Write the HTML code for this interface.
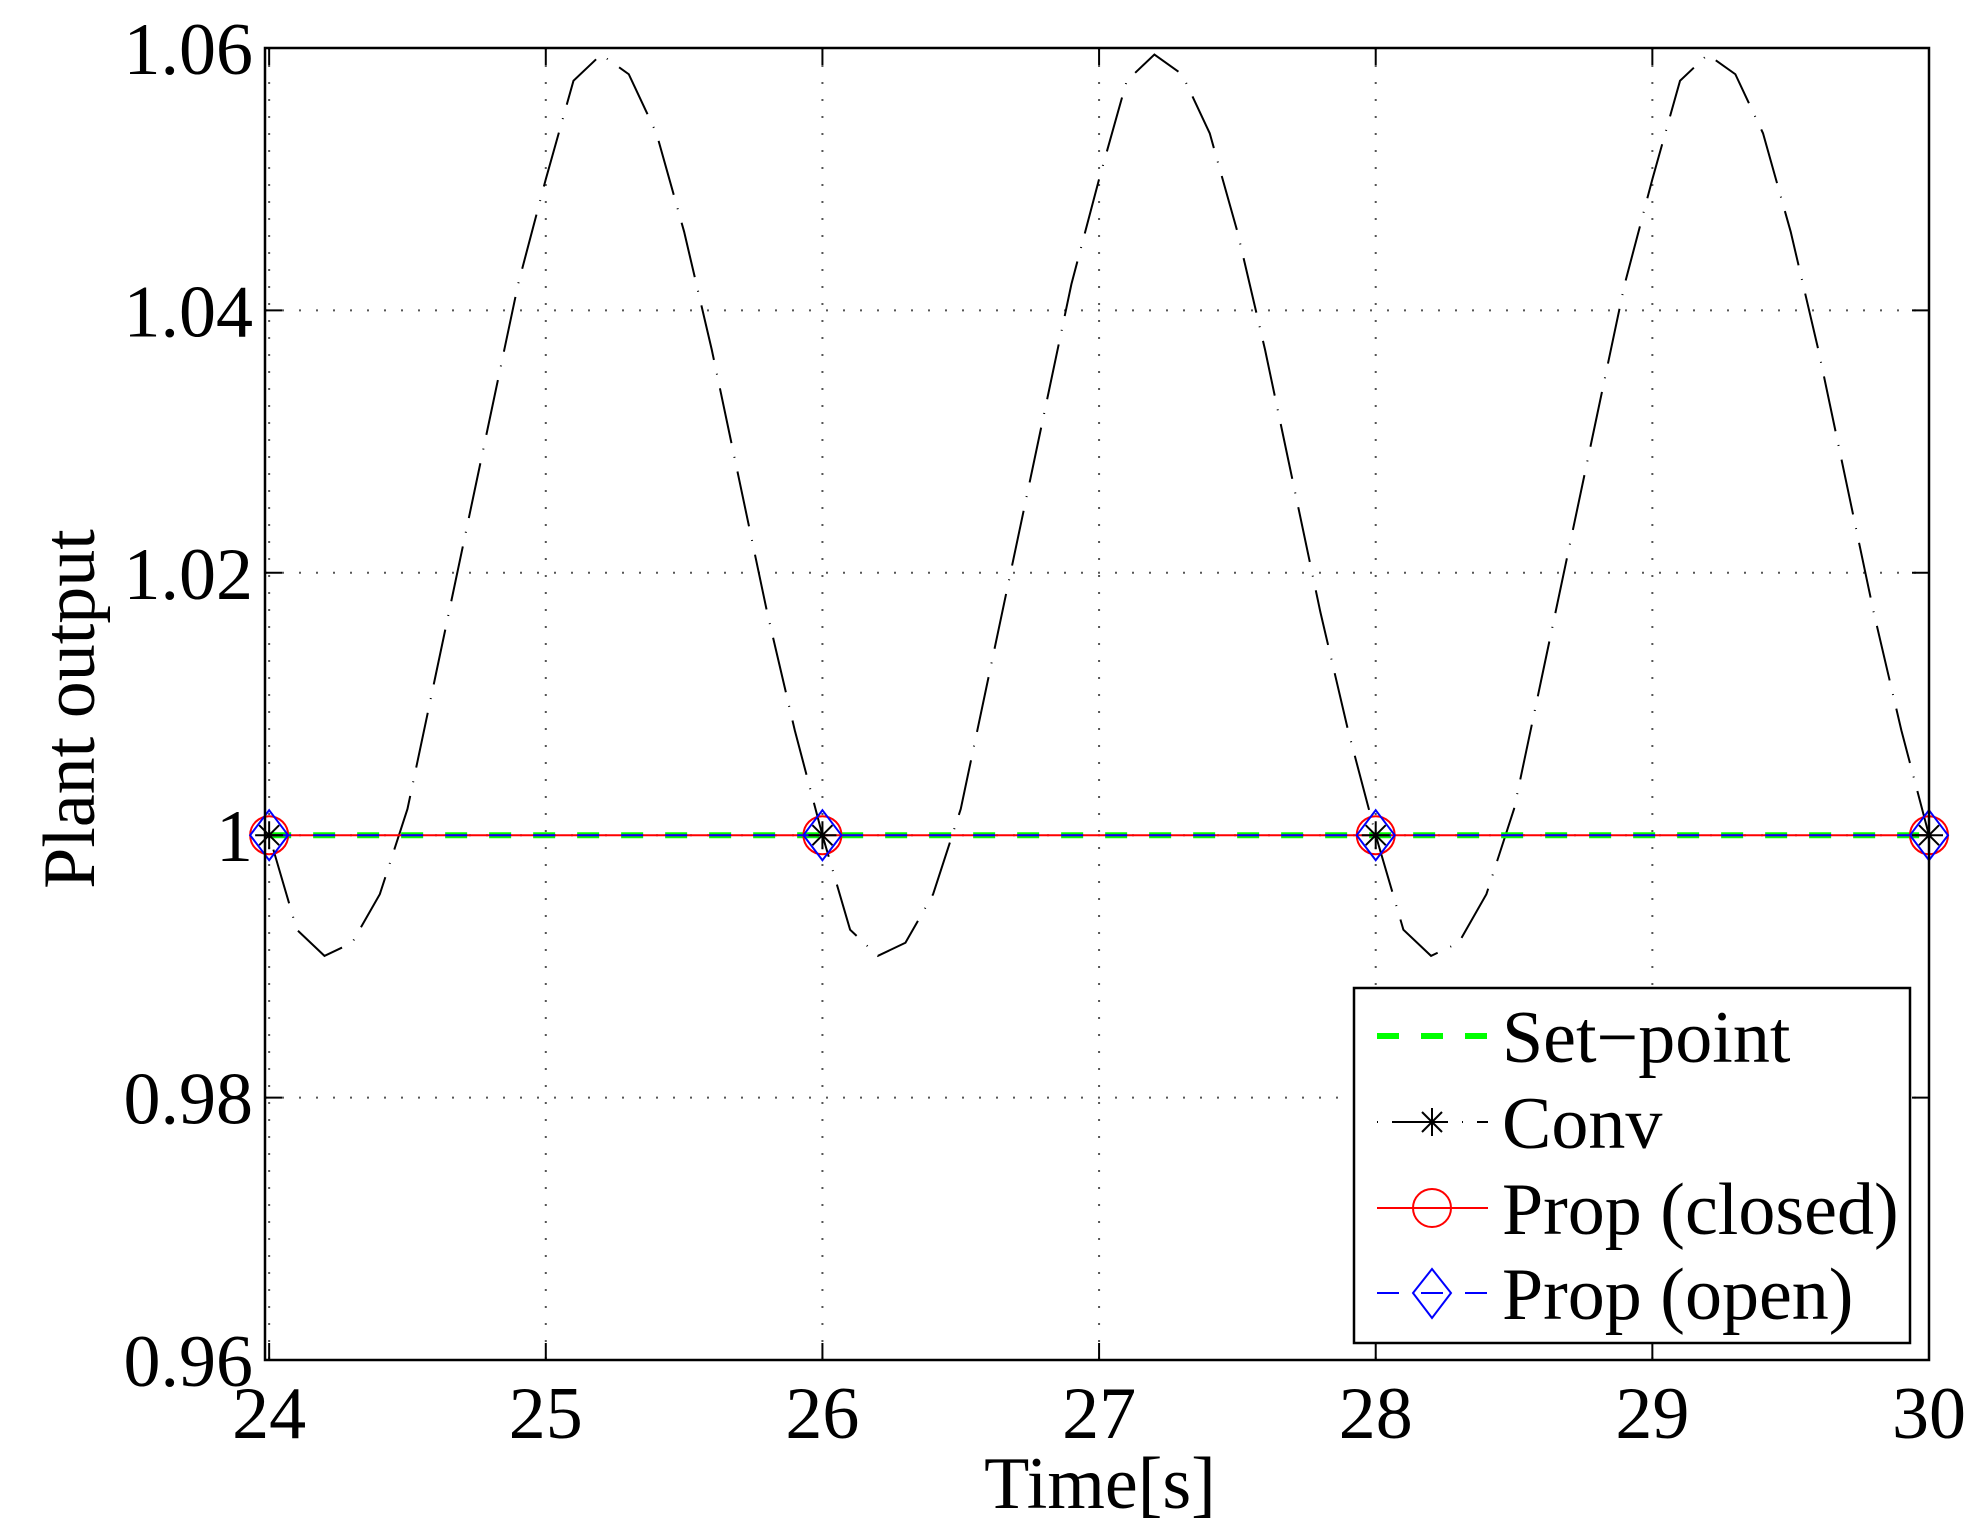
<!DOCTYPE html>
<html><head><meta charset="utf-8"><style>
html,body{margin:0;padding:0;background:#fff}
svg{display:block}
text{font-family:"Liberation Serif",serif;fill:#000}
</style></head><body>
<svg id="chart" width="1988" height="1538" viewBox="0 0 1988 1538" xmlns="http://www.w3.org/2000/svg">
<g id="grid"></g>
<g id="series"></g>
<g id="axes"></g>
<g id="legend">
  <rect x="1354" y="988" width="556" height="355" fill="#fff" stroke="#000" stroke-width="2.5"/>
  <g>
    <line x1="1377" y1="1036" x2="1488" y2="1036" stroke="#00ff00" stroke-width="6" stroke-dasharray="22,22"/>
    <text x="1502" y="1062" font-size="74">Set−point</text>
  </g>
  <g>
    <line x1="1377" y1="1122" x2="1488" y2="1122" stroke="#000" stroke-width="2" stroke-dasharray="1,14,56,14"/>
    <g stroke="#000" stroke-width="2"><line x1="1432" y1="1108" x2="1432" y2="1136"/><line x1="1418" y1="1122" x2="1446" y2="1122"/><line x1="1422" y1="1112" x2="1442" y2="1132"/><line x1="1422" y1="1132" x2="1442" y2="1112"/></g>
    <text x="1502" y="1148" font-size="74">Conv</text>
  </g>
  <g>
    <line x1="1377" y1="1208" x2="1488" y2="1208" stroke="#ff0000" stroke-width="2"/>
    <ellipse cx="1432" cy="1208" rx="19" ry="19" fill="none" stroke="#ff0000" stroke-width="2"/>
    <text x="1502" y="1234" font-size="74">Prop (closed)</text>
  </g>
  <g>
    <line x1="1377" y1="1293" x2="1488" y2="1293" stroke="#0000ff" stroke-width="2" stroke-dasharray="22,22"/>
    <polygon points="1432,1269 1451,1293 1432,1318 1413,1293" fill="none" stroke="#0000ff" stroke-width="2"/>
    <text x="1502" y="1319" font-size="74">Prop (open)</text>
  </g>
</g>
</svg>
<script>
const xTicks = [24,25,26,27,28,29,30];
const yTicks = [0.96,0.98,1.00,1.02,1.04,1.06];
const yTickLabels = ["0.96","0.98","1","1.02","1.04","1.06"];
const convTime = [24,24.1,24.2,24.3,24.4,24.5,24.6,24.7,24.8,24.9,25,25.1,25.2,25.3,25.4,25.5,25.6,25.7,25.8,25.9,26,
26.1,26.2,26.3,26.4,26.5,26.6,26.7,26.8,26.9,27,27.1,27.2,27.3,27.4,27.5,27.6,27.7,27.8,27.9,28,
28.1,28.2,28.3,28.4,28.5,28.6,28.7,28.8,28.9,29,29.1,29.2,29.3,29.4,29.5,29.6,29.7,29.8,29.9,30];
const convValues = [1.000,0.9928,0.9908,0.9918,0.9955,1.002,1.012,1.022,1.032,1.042,1.050,1.0575,1.0595,1.058,1.0535,1.046,1.037,1.027,1.017,1.008,1.000,
0.9928,0.9908,0.9918,0.9955,1.002,1.012,1.022,1.032,1.042,1.050,1.0575,1.0595,1.058,1.0535,1.046,1.037,1.027,1.017,1.008,1.000,
0.9928,0.9908,0.9918,0.9955,1.002,1.012,1.022,1.032,1.042,1.050,1.0575,1.0595,1.058,1.0535,1.046,1.037,1.027,1.017,1.008,1.000];
const setpointValue = [1.0];
const markerTimes = [24,26,28,30];
const propClosedValues = [1.0,1.0,1.0,1.0];
const propOpenValues = [1.0,1.0,1.0,1.0];

const L=265,R=1929,T=48,B=1360,X0=23.985,X1=30,Y0=0.96,Y1=1.06;
const sx=t=>L+(t-X0)/(X1-X0)*(R-L);
const sy=v=>B-(v-Y0)/(Y1-Y0)*(B-T);
const NS="http://www.w3.org/2000/svg";
function mk(tag,attrs,parent){const e=document.createElementNS(NS,tag);for(const k in attrs)e.setAttribute(k,attrs[k]);parent.appendChild(e);return e;}
const grid=document.getElementById('grid'),axes=document.getElementById('axes'),ser=document.getElementById('series');

xTicks.forEach(t=>{
  const g=mk('line',{x1:sx(t),x2:sx(t),y1:T,y2:B,stroke:'#555','stroke-width':2,'stroke-dasharray':'2,15'},grid);
  
  
  const tk=mk('line',{x1:sx(t),x2:sx(t),y1:B,y2:B-17,stroke:'#000','stroke-width':2},axes);
  
  
  const tk2=mk('line',{x1:sx(t),x2:sx(t),y1:T,y2:T+17,stroke:'#000','stroke-width':2},axes);
  
  
  const lb=mk('text',{x:sx(t),y:1438,'font-size':74,'text-anchor':'middle'},axes);
  lb.textContent=String(t);
  
  
});
yTicks.forEach((v,i)=>{
  const g=mk('line',{x1:L,x2:R,y1:sy(v),y2:sy(v),stroke:'#555','stroke-width':2,'stroke-dasharray':'2,15'},grid);
  
  
  const tk=mk('line',{x1:L,x2:L+17,y1:sy(v),y2:sy(v),stroke:'#000','stroke-width':2},axes);
  
  
  const tk2=mk('line',{x1:R,x2:R-17,y1:sy(v),y2:sy(v),stroke:'#000','stroke-width':2},axes);
  
  
  const lb=mk('text',{x:253,y:sy(v)+26,'font-size':74,'text-anchor':'end'},axes);
  lb.textContent=yTickLabels[i];
  
  
});
const box=mk('rect',{x:L,y:T,width:R-L,height:B-T,fill:'none',stroke:'#000','stroke-width':2.5},axes);


const xt=mk('text',{x:1100,y:1508,'font-size':74,'text-anchor':'middle'},axes);
xt.textContent='Time[s]';


const yt=mk('text',{x:0,y:0,'font-size':74,'text-anchor':'middle',transform:'translate(94,709) rotate(-90)'},axes);
yt.textContent='Plant output';



// conv line
const cp=mk('polyline',{points:convTime.map((t,i)=>sx(t)+','+sy(convValues[i])).join(' '),fill:'none',stroke:'#000','stroke-width':2,'stroke-dasharray':'1,14,56,14'},ser);


// set-point
const sp=mk('line',{x1:sx(24),x2:sx(30),y1:sy(setpointValue[0]),y2:sy(setpointValue[0]),stroke:'#00ff00','stroke-width':6,'stroke-dasharray':'22,22'},ser);


// prop closed line
const pc=mk('polyline',{points:markerTimes.map((t,i)=>sx(t)+','+sy(propClosedValues[i])).join(' '),fill:'none',stroke:'#ff0000','stroke-width':2},ser);


const po=mk('polyline',{points:markerTimes.map((t,i)=>sx(t)+','+sy(propOpenValues[i])).join(' '),fill:'none',stroke:'#0000ff','stroke-width':2,'stroke-dasharray':'22,22'},ser);


markerTimes.forEach((t,i)=>{
  const x=sx(t),yc=sy(propClosedValues[i]),yo=sy(propOpenValues[i]),yv=sy(convValues[convTime.indexOf(t)]);
  const c=mk('circle',{cx:x,cy:yc,r:19,fill:'none',stroke:'#ff0000','stroke-width':2},ser);
  
  
  const d=mk('polygon',{points:`${x},${yo-25} ${x+19},${yo} ${x},${yo+25} ${x-19},${yo}`,fill:'none',stroke:'#0000ff','stroke-width':2},ser);
  
  
  const a=mk('path',{d:`M${x},${yv-14}V${yv+14}M${x-14},${yv}H${x+14}M${x-10},${yv-10}L${x+10},${yv+10}M${x-10},${yv+10}L${x+10},${yv-10}`,stroke:'#000','stroke-width':2,fill:'none'},ser);
  
  
});
</script>
</body></html>
